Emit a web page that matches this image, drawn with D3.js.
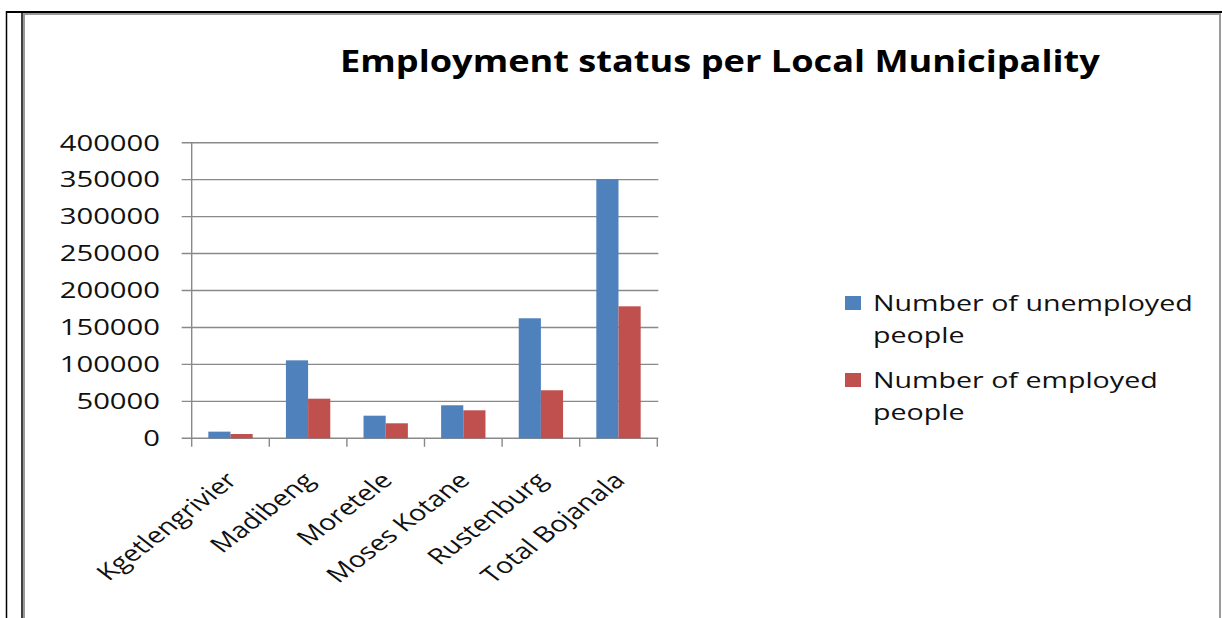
<!DOCTYPE html>
<html>
<head>
<meta charset="utf-8">
<script src="https://cdn.jsdelivr.net/npm/d3@7"></script>
<style>
  html, body { margin: 0; padding: 0; background: #fff; overflow: hidden; }
  svg { display: block; }
  text { font-family: "Open Sans", "DejaVu Sans", sans-serif; fill: #111; }
</style>
</head>
<body>
<svg id="chart" width="1222" height="618"></svg>
<script>
// Employment status per local municipality (Bojanala district)
const categories = ["Kgetlengrivier", "Madibeng", "Moretele", "Moses Kotane", "Rustenburg", "Total Bojanala"];
const unemployed = [9000, 105500, 30600, 44700, 162400, 350500];
const employed   = [5800, 53600, 20300, 37900, 65000, 178600];
const seriesKeys = ["unemployed", "employed"];
const seriesColors = ["#4F81BD", "#C0504D"];
const legendLines = [["Number of unemployed", "people"], ["Number of employed", "people"]];
const yTicks = [0, 50000, 100000, 150000, 200000, 250000, 300000, 350000, 400000];
const titleText = "Employment status per Local Municipality";

const svg = d3.select("#chart");
const W = 1222, H = 618;
const stretch = 1.3;           // wide glyph rendering of the chart text
const fontSize = 22;
const gridColor = "#898989";

// page frame
svg.append("rect").attr("x", 0).attr("y", 0).attr("width", W).attr("height", H).attr("fill", "#fff");
svg.append("line").attr("x1", 6).attr("x2", W).attr("y1", 12).attr("y2", 12)
  .attr("stroke", "#000").attr("stroke-width", 2);
svg.append("line").attr("x1", 6.5).attr("x2", 6.5).attr("y1", 11).attr("y2", H)
  .attr("stroke", "#000").attr("stroke-width", 1.5);
svg.append("line").attr("x1", 22).attr("x2", 22).attr("y1", 12).attr("y2", H)
  .attr("stroke", "#000").attr("stroke-width", 1.5);
// chart area border
svg.append("rect").attr("x", 24).attr("y", 14).attr("width", 1196).attr("height", H)
  .attr("fill", "none").attr("stroke", "#9a9a9a").attr("stroke-width", 2);

// plot area
const plot = { left: 191.7, right: 657.3, top: 142.7, bottom: 438.3 };

const x0 = d3.scaleBand().domain(categories).range([plot.left, plot.right]).padding(0);
const x1 = d3.scaleBand().domain(seriesKeys).range([0, x0.bandwidth()]).paddingInner(0).paddingOuter(0.75);
const y = d3.scaleLinear().domain([0, 400000]).range([plot.bottom, plot.top]);

// horizontal gridlines (with outward tick marks)
svg.append("g").selectAll("line").data(yTicks).join("line")
  .attr("x1", plot.left - 10).attr("x2", plot.right + 1)
  .attr("y1", d => y(d)).attr("y2", d => y(d))
  .attr("stroke", gridColor).attr("stroke-width", 1.4);

// y axis line
svg.append("line").attr("x1", plot.left).attr("x2", plot.left)
  .attr("y1", plot.top).attr("y2", plot.bottom)
  .attr("stroke", gridColor).attr("stroke-width", 1.4);

// category tick marks at band boundaries
const boundaries = categories.map(c => x0(c)).concat([x0(categories[categories.length - 1]) + x0.bandwidth()]);
svg.append("g").selectAll("line").data(boundaries).join("line")
  .attr("x1", d => d).attr("x2", d => d)
  .attr("y1", plot.bottom).attr("y2", plot.bottom + 8.5)
  .attr("stroke", gridColor).attr("stroke-width", 1.4);

// bars
const rows = categories.map((c, i) => ({ category: c, unemployed: unemployed[i], employed: employed[i] }));
const groups = svg.append("g").selectAll("g").data(rows).join("g")
  .attr("transform", d => `translate(${x0(d.category)},0)`);
groups.selectAll("rect").data(d => seriesKeys.map((k, j) => ({ key: k, value: d[k], color: seriesColors[j] })))
  .join("rect")
  .attr("x", d => x1(d.key))
  .attr("width", x1.bandwidth())
  .attr("y", d => y(d.value))
  .attr("height", d => y(0) - y(d.value))
  .attr("fill", d => d.color);

// y tick labels
svg.append("g").selectAll("text").data(yTicks).join("text")
  .attr("transform", d => `translate(160,${y(d) + 7.8}) scale(${stretch},1)`)
  .attr("text-anchor", "end")
  .attr("font-size", 22.5)
  .text(d => d);

// category labels, rotated
svg.append("g").selectAll("text").data(categories).join("text")
  .attr("transform", d => `translate(${x0(d) + x0.bandwidth() / 2 + 1},${plot.bottom + 38}) scale(${stretch},1) rotate(-45)`)
  .attr("text-anchor", "end")
  .attr("dy", "0.35em")
  .attr("font-size", fontSize)
  .text(d => d);

// legend
const legend = svg.append("g");
legendLines.forEach((lines, i) => {
  const top = 296 + i * 77;
  legend.append("rect").attr("x", 845).attr("y", top).attr("width", 16).attr("height", 14)
    .attr("fill", seriesColors[i]);
  lines.forEach((ln, k) => {
    legend.append("text")
      .attr("transform", `translate(873,${top + 14.7 + k * 32.5}) scale(${stretch},1)`)
      .attr("font-size", fontSize)
      .text(ln);
  });
});

// title, fitted to its span
const titleLeft = 340, titleRight = 1100;
const title = svg.append("text")
  .attr("font-size", 30)
  .attr("font-weight", "bold")
  .style("fill", "#000")
  .text(titleText);
const natural = title.node().getComputedTextLength();
const tScale = (titleRight - titleLeft) / natural;
title.attr("transform", `translate(${titleLeft},71.7) scale(${tScale},1)`);
</script>
</body>
</html>
